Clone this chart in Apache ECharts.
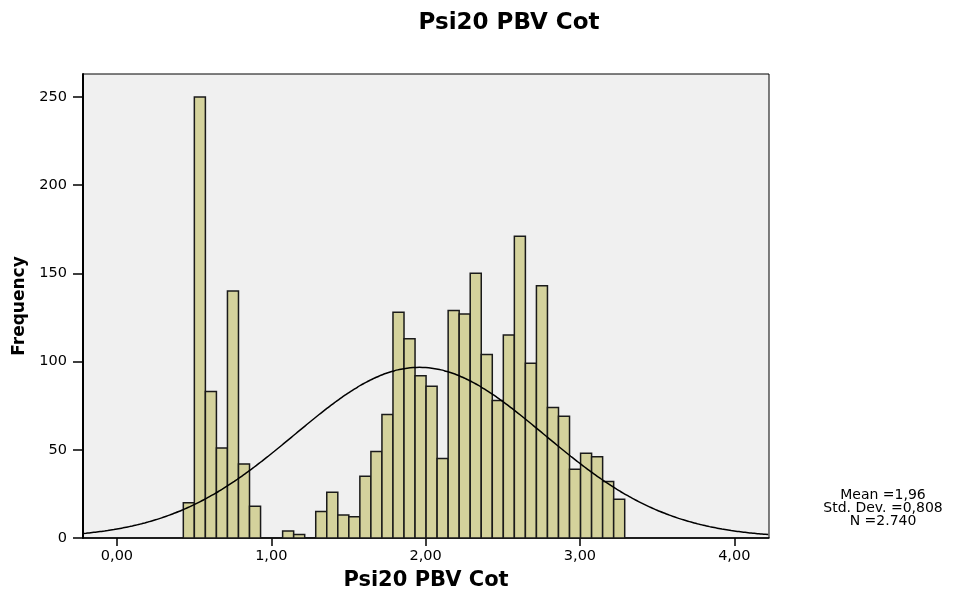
<!DOCTYPE html>
<html lang="pt">
<head>
    <meta charset="UTF-8">
    <style>
        body{ margin: 0; background: #fff; }
        #main{ width: 971px; height: 594px; }
    </style>
    <script src="https://cdn.jsdelivr.net/npm/echarts@6/dist/echarts.min.js"></script>
    <title>Psi20 PBV Cot</title>
</head>
<body>
    <div id="main"></div>
    <script>
        // histogram bins: first edge, width, counts
        var binStart = 0.43;
        var binWidth = 0.0715;
        var counts = [20, 250, 83, 51, 140, 42, 18, 0, 0, 4,
                      2, 0, 15, 26, 13, 12, 35, 49, 70, 128,
                      113, 92, 86, 45, 129, 127, 150, 104, 78, 115,
                      171, 99, 143, 74, 69, 39, 48, 46, 32, 22];
        // summary statistics shown on the chart
        var mean = 1.96, stdDev = 0.808, total = 2740;
        var xTicks = [0, 1, 2, 3, 4];
        var yTicks = [0, 50, 100, 150, 200, 250];

        var xMin = -0.22, xMax = 4.225;

        var bins = [];
        for (var i = 0; i < counts.length; i++) {
            var a = binStart + i * binWidth;
            bins.push([a, a + binWidth, counts[i]]);
        }

        // fitted normal curve from the stats
        var curve = [];
        for (var x = xMin; x <= xMax + 1e-9; x += 0.02) {
            var z = (x - mean) / stdDev;
            var y = total * binWidth / (stdDev * Math.sqrt(2 * Math.PI)) * Math.exp(-0.5 * z * z);
            curve.push([x, y]);
        }

        var fmt = function (v) { return v.toFixed(2).replace('.', ','); };
        var font = "'DejaVu Sans', sans-serif";

        var myChart = echarts.init(document.getElementById('main'));
        var option = {
            animation: false,
            backgroundColor: '#fff',
            textStyle: { fontFamily: font },
            title: {
                text: 'Psi20 PBV Cot',
                left: 504,
                textAlign: 'center',
                top: 7,
                textStyle: { fontSize: 23, fontWeight: 'bold', color: '#000', fontFamily: font }
            },
            grid: {
                left: 83, right: 202, top: 74, bottom: 56,
                outerBoundsMode: 'none',
                containLabel: false,
                show: true,
                backgroundColor: '#f0f0f0',
                borderColor: '#000',
                borderWidth: 1
            },
            xAxis: {
                type: 'value',
                min: xMin,
                max: xMax,
                name: 'Psi20 PBV Cot',
                nameLocation: 'middle',
                nameGap: 32,
                nameTextStyle: { fontSize: 21, fontWeight: 'bold', color: '#000', fontFamily: font },
                axisLine: { onZero: false, lineStyle: { color: '#000', width: 1.5 } },
                axisTick: { customValues: xTicks, length: 8, lineStyle: { color: '#000', width: 1.5 } },
                axisLabel: { customValues: xTicks, formatter: fmt, fontSize: 14.5, color: '#000', margin: 11 },
                splitLine: { show: false }
            },
            yAxis: {
                type: 'value',
                min: 0,
                max: 263,
                name: 'Frequency',
                nameLocation: 'middle',
                nameGap: 54,
                nameRotate: 90,
                nameTextStyle: { fontSize: 17, fontWeight: 'bold', color: '#000', fontFamily: font },
                axisLine: { show: true, onZero: false, lineStyle: { color: '#000', width: 2 } },
                axisTick: { show: true, customValues: yTicks, length: 10, lineStyle: { color: '#000', width: 1.5 } },
                axisLabel: { customValues: yTicks, fontSize: 14.5, color: '#000', margin: 16 },
                splitLine: { show: false }
            },
            graphic: [{
                type: 'text',
                x: 883,
                y: 489,
                style: {
                    text: 'Mean =1,96\nStd. Dev. =0,808\nN =2.740',
                    align: 'center',
                    fontSize: 14,
                    lineHeight: 13,
                    fontFamily: font,
                    fill: '#000'
                }
            }],
            series: [{
                type: 'custom',
                data: bins,
                renderItem: function (params, api) {
                    var p0 = api.coord([api.value(0), api.value(2)]);
                    var p1 = api.coord([api.value(1), 0]);
                    return {
                        type: 'rect',
                        shape: { x: p0[0], y: p0[1], width: p1[0] - p0[0], height: p1[1] - p0[1] },
                        style: { fill: '#d4d29c', stroke: '#1a1a1a', lineWidth: 1.5 }
                    };
                },
                encode: { x: [0, 1], y: 2 },
                z: 2
            }, {
                type: 'line',
                data: curve,
                showSymbol: false,
                smooth: true,
                lineStyle: { color: '#000', width: 1.5 },
                z: 3
            }]
        };
        myChart.setOption(option);
    </script>
</body>
</html>
